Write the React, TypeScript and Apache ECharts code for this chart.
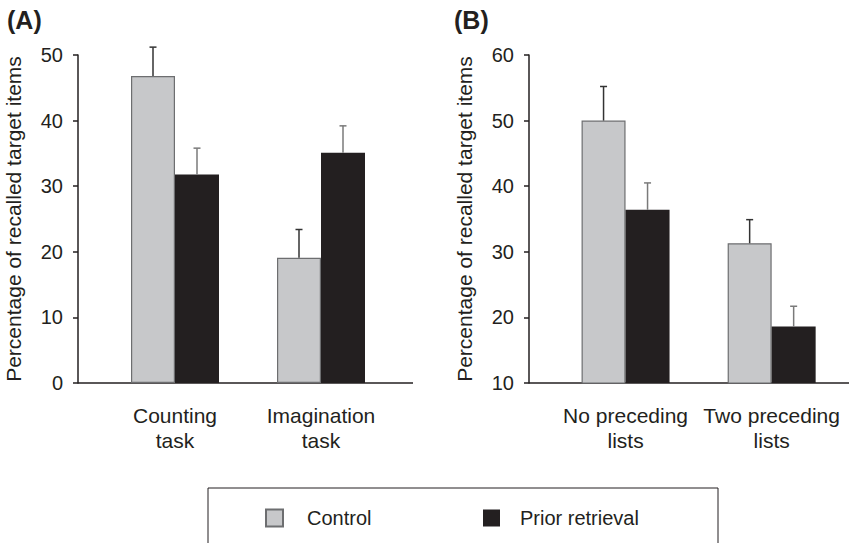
import React, { useEffect, useRef } from "react";
import * as echarts from "echarts";

const categoriesA = ["Counting\ntask", "Imagination\ntask"];
const categoriesB = ["No preceding\nlists", "Two preceding\nlists"];
const controlA = [46.8, 19.1];
const controlErrA = [4.4, 4.3];
const priorA = [31.8, 35.1];
const priorErrA = [4.0, 4.1];
const controlB = [50.0, 31.3];
const controlErrB = [5.2, 3.6];
const priorB = [36.4, 18.6];
const priorErrB = [4.1, 3.1];
const yTicksA = { min: 0, max: 50, interval: 10 };
const yTicksB = { min: 10, max: 60, interval: 10 };
const yTitle = "Percentage of recalled target items";
const seriesNames = ["Control", "Prior retrieval"];

const FONT = "'Liberation Sans', Arial, Helvetica, sans-serif";
const INK = "#231f20";
const BAR_W = 44;

export default function App() {
  const ref = useRef<HTMLDivElement>(null);
  useEffect(() => {
    document.body.style.margin = "0";
    const chart = echarts.init(ref.current!, null, { renderer: "svg" });

    const errSeries = (
      name: string,
      gridIdx: number,
      means: number[],
      errs: number[],
      dir: number,
      color: string
    ) => ({
      type: "custom",
      name: name + " err",
      xAxisIndex: gridIdx,
      yAxisIndex: gridIdx,
      z: 5,
      silent: true,
      data: means.map((m, i) => [i, m, m + errs[i]]),
      renderItem: (params: any, api: any) => {
        const base = api.coord([api.value(0), api.value(1)]);
        const top = api.coord([api.value(0), api.value(2)]);
        const x = base[0] + (dir * BAR_W) / 2;
        return {
          type: "group",
          children: [
            {
              type: "line",
              shape: { x1: x, y1: base[1], x2: x, y2: top[1] },
              style: { stroke: color, lineWidth: 1.5 },
            },
            {
              type: "line",
              shape: { x1: x - 3.5, y1: top[1], x2: x + 3.5, y2: top[1] },
              style: { stroke: color, lineWidth: 1.5 },
            },
          ],
        };
      },
    });

    const xAxisCfg = (idx: number, data: string[]) => ({
      type: "category",
      gridIndex: idx,
      data,
      boundaryGap: true,
      axisLine: { show: false },
      axisTick: { show: false },
      axisLabel: {
        interval: 0,
        hideOverlap: false,
        color: INK,
        fontFamily: FONT,
        fontSize: 21,
        lineHeight: 25,
        margin: 20,
      },
    });

    const yAxisCfg = (idx: number, t: any, offset: number) => ({
      type: "value",
      gridIndex: idx,
      min: t.min,
      max: t.max,
      interval: t.interval,
      offset,
      name: yTitle,
      nameLocation: "middle",
      nameGap: 54,
      nameTextStyle: { color: INK, fontFamily: FONT, fontSize: 21 },
      splitLine: { show: false },
      axisLine: { show: true, lineStyle: { color: INK, width: 1.5 } },
      axisTick: { show: true, length: 5, lineStyle: { color: INK, width: 1.5 } },
      axisLabel: { color: INK, fontFamily: FONT, fontSize: 20, margin: 15 },
    });

    const controlStyle = { color: "#c7c8ca", borderColor: "#6d6e70", borderWidth: 1.2 };
    const priorStyle = { color: INK, borderColor: INK, borderWidth: 0 };

    const barSeries = (name: string, idx: number, data: number[], style: any) => ({
      type: "bar",
      name,
      xAxisIndex: idx,
      yAxisIndex: idx,
      data,
      barWidth: BAR_W,
      barGap: "0%",
      itemStyle: style,
      silent: true,
    });

    chart.setOption({
      animation: false,
      textStyle: { fontFamily: FONT },
      grid: [
        { left: 102, right: 456, top: 55, bottom: 160 },
        { left: 552.5, right: 5.3, top: 55, bottom: 160 },
      ],
      xAxis: [xAxisCfg(0, categoriesA), xAxisCfg(1, categoriesB)],
      yAxis: [yAxisCfg(0, yTicksA, 24), yAxisCfg(1, yTicksB, 23.5)],
      legend: [
        {
          data: [seriesNames[0]],
          left: 260,
          top: 503,
          itemWidth: 17,
          itemHeight: 17,
          icon: "rect",
          selectedMode: false,
          textStyle: { color: INK, fontFamily: FONT, fontSize: 20, padding: [0, 0, 0, 19] },
        },
        {
          data: [seriesNames[1]],
          left: 478,
          top: 503,
          itemWidth: 17,
          itemHeight: 17,
          icon: "rect",
          selectedMode: false,
          textStyle: { color: INK, fontFamily: FONT, fontSize: 20, padding: [0, 0, 0, 15] },
        },
      ],
      graphic: [
        { type: "line", shape: { x1: 78, y1: 383, x2: 413, y2: 383 }, style: { stroke: INK, lineWidth: 1.5 } },
        { type: "line", shape: { x1: 529, y1: 383, x2: 849, y2: 383 }, style: { stroke: INK, lineWidth: 1.5 } },
        {
          type: "rect",
          shape: { x: 208, y: 488, width: 510, height: 80 },
          style: { fill: "none", stroke: INK, lineWidth: 1 },
        },
        {
          type: "text",
          x: 7,
          y: 20,
          style: { text: "(A)", fill: INK, font: `bold 25px ${FONT}`, textVerticalAlign: "middle" },
        },
        {
          type: "text",
          x: 454,
          y: 20,
          style: { text: "(B)", fill: INK, font: `bold 25px ${FONT}`, textVerticalAlign: "middle" },
        },
      ],
      series: [
        barSeries(seriesNames[0], 0, controlA, controlStyle),
        barSeries(seriesNames[1], 0, priorA, priorStyle),
        barSeries(seriesNames[0], 1, controlB, controlStyle),
        barSeries(seriesNames[1], 1, priorB, priorStyle),
        errSeries(seriesNames[0], 0, controlA, controlErrA, -1, "#333333"),
        errSeries(seriesNames[1], 0, priorA, priorErrA, 1, "#7a7a7a"),
        errSeries(seriesNames[0], 1, controlB, controlErrB, -1, "#333333"),
        errSeries(seriesNames[1], 1, priorB, priorErrB, 1, "#7a7a7a"),
      ],
    });
    return () => chart.dispose();
  }, []);
  return <div ref={ref} style={{ width: 850, height: 543 }} />;
}
